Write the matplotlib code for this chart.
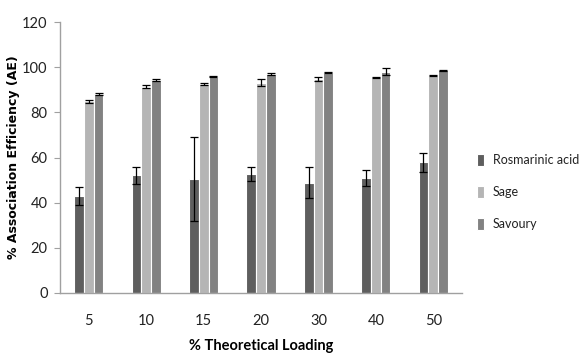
import matplotlib
matplotlib.use("Agg")
import matplotlib.pyplot as plt
import numpy as np

categories = ["5", "10", "15", "20", "30", "40", "50"]
rosmarinic = [43.1, 52.1, 50.5, 52.8, 48.9, 50.9, 58.0]
rosmarinic_err = [4.0, 3.7, 18.5, 3.0, 7.0, 3.5, 4.2]
sage = [84.9, 91.4, 92.6, 93.1, 94.8, 95.4, 96.2]
sage_err = [0.7, 0.7, 0.6, 1.6, 0.8, 0.3, 0.3]
savoury = [88.2, 94.3, 95.8, 97.0, 97.6, 98.0, 98.6]
savoury_err = [0.4, 0.3, 0.3, 0.3, 0.3, 1.5, 0.3]

series = [
    ("Rosmarinic acid", rosmarinic, rosmarinic_err, "#5e5e5e"),
    ("Sage", sage, sage_err, "#b5b5b5"),
    ("Savoury", savoury, savoury_err, "#828282"),
]

narrow = ["Lato", "DejaVu Sans"]

fig = plt.figure(figsize=(5.84, 3.56), dpi=100)
ax = fig.add_axes([0.103, 0.177, 0.688, 0.761])

x = np.arange(len(categories))
w = 0.17
for i, (name, vals, errs, col) in enumerate(series):
    ax.bar(x + (i - 1) * w, vals, width=w, color=col, edgecolor="white",
           linewidth=0.8, label=name, zorder=2,
           yerr=errs, error_kw=dict(ecolor="black", elinewidth=0.9,
                                    capsize=3, capthick=0.9, zorder=3))

ax.set_xlim(-0.5, len(categories) - 0.5)
ax.set_ylim(0, 120)
ax.set_yticks(np.arange(0, 121, 20))
ax.set_xticks(x)
ax.set_xticklabels(categories)
for lab in ax.get_xticklabels() + ax.get_yticklabels():
    lab.set_family(narrow)
    lab.set_fontsize(10.5)
    lab.set_color("#222222")
ax.tick_params(axis="x", length=0, pad=15)
ax.tick_params(axis="y", length=4, color="#a0a0a0", direction="out", pad=5)

for s in ["top", "right"]:
    ax.spines[s].set_visible(False)
for s in ["left", "bottom"]:
    ax.spines[s].set_color("#a0a0a0")
    ax.spines[s].set_linewidth(1.0)

ax.set_xlabel("% Theoretical Loading", family=narrow, fontsize=10.5,
              fontweight="bold", labelpad=8)
ax.yaxis.set_label_coords(-0.1, 0.5)
ax.set_ylabel("% Association Efficiency (AE)", family="DejaVu Sans",
              fontsize=9, fontweight="bold")

leg = ax.legend(loc="center left", bbox_to_anchor=(1.037, 0.373), frameon=False,
                prop={"family": narrow, "size": 9}, handlelength=0.6,
                handleheight=1.1, handletextpad=0.7, labelspacing=1.6,
                borderaxespad=0, borderpad=0)
for t in leg.get_texts():
    t.set_color("#222222")

fig.savefig("out.png", dpi=100)
